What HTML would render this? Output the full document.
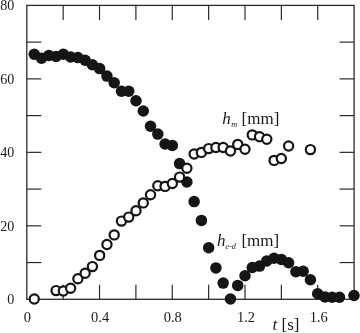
<!DOCTYPE html>
<html><head><meta charset="utf-8"><title>plot</title>
<style>
html,body{margin:0;padding:0;background:#fff;}
svg{display:block;}
text{font-family:"Liberation Serif",serif;fill:#1a1a1a;}
.tk{font-size:14.5px;}
.lb{font-size:17px;}
.sub{font-size:8.2px;font-style:italic;}
.it{font-style:italic;}
</style></head><body>
<svg width="360" height="333" viewBox="0 0 360 333">
<rect width="360" height="333" fill="#fff"/>
<g stroke="#2a2a2a" stroke-width="1.2" fill="none">
<rect x="26.8" y="5.4" width="327.30" height="293.90" stroke-width="1.3"/>
<line x1="63.17" y1="5.4" x2="63.17" y2="19.9"/>
<line x1="63.17" y1="299.3" x2="63.17" y2="284.8"/>
<line x1="99.53" y1="5.4" x2="99.53" y2="19.9"/>
<line x1="99.53" y1="299.3" x2="99.53" y2="284.8"/>
<line x1="135.90" y1="5.4" x2="135.90" y2="19.9"/>
<line x1="135.90" y1="299.3" x2="135.90" y2="284.8"/>
<line x1="172.27" y1="5.4" x2="172.27" y2="19.9"/>
<line x1="172.27" y1="299.3" x2="172.27" y2="284.8"/>
<line x1="208.63" y1="5.4" x2="208.63" y2="19.9"/>
<line x1="208.63" y1="299.3" x2="208.63" y2="284.8"/>
<line x1="245.00" y1="5.4" x2="245.00" y2="19.9"/>
<line x1="245.00" y1="299.3" x2="245.00" y2="284.8"/>
<line x1="281.37" y1="5.4" x2="281.37" y2="19.9"/>
<line x1="281.37" y1="299.3" x2="281.37" y2="284.8"/>
<line x1="317.73" y1="5.4" x2="317.73" y2="19.9"/>
<line x1="317.73" y1="299.3" x2="317.73" y2="284.8"/>
<line x1="26.8" y1="262.56" x2="41.3" y2="262.56"/>
<line x1="354.1" y1="262.56" x2="339.6" y2="262.56"/>
<line x1="26.8" y1="225.82" x2="41.3" y2="225.82"/>
<line x1="354.1" y1="225.82" x2="339.6" y2="225.82"/>
<line x1="26.8" y1="189.09" x2="41.3" y2="189.09"/>
<line x1="354.1" y1="189.09" x2="339.6" y2="189.09"/>
<line x1="26.8" y1="152.35" x2="41.3" y2="152.35"/>
<line x1="354.1" y1="152.35" x2="339.6" y2="152.35"/>
<line x1="26.8" y1="115.61" x2="41.3" y2="115.61"/>
<line x1="354.1" y1="115.61" x2="339.6" y2="115.61"/>
<line x1="26.8" y1="78.88" x2="41.3" y2="78.88"/>
<line x1="354.1" y1="78.88" x2="339.6" y2="78.88"/>
<line x1="26.8" y1="42.14" x2="41.3" y2="42.14"/>
<line x1="354.1" y1="42.14" x2="339.6" y2="42.14"/>
</g>
<g fill="#151515">
<circle cx="34.27" cy="54.2" r="5.75"/>
<circle cx="41.53" cy="58.3" r="5.75"/>
<circle cx="48.80" cy="55.5" r="5.75"/>
<circle cx="56.07" cy="56.5" r="5.75"/>
<circle cx="63.33" cy="54.3" r="5.75"/>
<circle cx="70.60" cy="57" r="5.75"/>
<circle cx="77.87" cy="57.6" r="5.75"/>
<circle cx="85.13" cy="60.2" r="5.75"/>
<circle cx="92.40" cy="64.7" r="5.75"/>
<circle cx="99.67" cy="68.6" r="5.75"/>
<circle cx="106.93" cy="76.1" r="5.75"/>
<circle cx="114.20" cy="82.8" r="5.75"/>
<circle cx="121.47" cy="91.3" r="5.75"/>
<circle cx="128.73" cy="91.3" r="5.75"/>
<circle cx="136.00" cy="100.7" r="5.75"/>
<circle cx="143.27" cy="111" r="5.75"/>
<circle cx="150.53" cy="126.2" r="5.75"/>
<circle cx="157.80" cy="134.1" r="5.75"/>
<circle cx="165.07" cy="144" r="5.75"/>
<circle cx="172.33" cy="145.4" r="5.75"/>
<circle cx="179.60" cy="163.6" r="5.75"/>
<circle cx="186.87" cy="182" r="5.75"/>
<circle cx="194.13" cy="201.6" r="5.75"/>
<circle cx="201.40" cy="220.4" r="5.75"/>
<circle cx="208.67" cy="247.8" r="5.75"/>
<circle cx="215.93" cy="267.9" r="5.75"/>
<circle cx="223.20" cy="283.1" r="5.75"/>
<circle cx="230.47" cy="299" r="5.75"/>
<circle cx="237.73" cy="285.4" r="5.75"/>
<circle cx="245.00" cy="275.7" r="5.75"/>
<circle cx="252.27" cy="267.5" r="5.75"/>
<circle cx="259.53" cy="266.1" r="5.75"/>
<circle cx="266.80" cy="260.9" r="5.75"/>
<circle cx="274.07" cy="258.3" r="5.75"/>
<circle cx="281.33" cy="259.4" r="5.75"/>
<circle cx="288.60" cy="262.8" r="5.75"/>
<circle cx="295.87" cy="271.7" r="5.75"/>
<circle cx="303.13" cy="271.3" r="5.75"/>
<circle cx="310.40" cy="279.7" r="5.75"/>
<circle cx="317.67" cy="293.8" r="5.75"/>
<circle cx="324.93" cy="296.9" r="5.75"/>
<circle cx="332.20" cy="297.3" r="5.75"/>
<circle cx="339.47" cy="297.3" r="5.75"/>
<circle cx="354.00" cy="295.5" r="5.75"/>
</g>
<g fill="#fff" stroke="#151515" stroke-width="2.2">
<circle cx="34.27" cy="299" r="4.6"/>
<circle cx="56.07" cy="290.6" r="4.6"/>
<circle cx="63.33" cy="291" r="4.6"/>
<circle cx="70.60" cy="288.3" r="4.6"/>
<circle cx="77.87" cy="278.8" r="4.6"/>
<circle cx="85.13" cy="273.2" r="4.6"/>
<circle cx="92.40" cy="266.6" r="4.6"/>
<circle cx="99.67" cy="255.4" r="4.6"/>
<circle cx="106.93" cy="244.5" r="4.6"/>
<circle cx="114.20" cy="234.9" r="4.6"/>
<circle cx="121.47" cy="221.1" r="4.6"/>
<circle cx="128.73" cy="217.1" r="4.6"/>
<circle cx="136.00" cy="210.7" r="4.6"/>
<circle cx="143.27" cy="202.9" r="4.6"/>
<circle cx="150.53" cy="194.7" r="4.6"/>
<circle cx="157.80" cy="185.8" r="4.6"/>
<circle cx="165.07" cy="186.4" r="4.6"/>
<circle cx="172.33" cy="183.5" r="4.6"/>
<circle cx="179.60" cy="177.1" r="4.6"/>
<circle cx="186.87" cy="168.2" r="4.6"/>
<circle cx="194.13" cy="154" r="4.6"/>
<circle cx="201.40" cy="152.4" r="4.6"/>
<circle cx="208.67" cy="148.6" r="4.6"/>
<circle cx="215.93" cy="147.5" r="4.6"/>
<circle cx="223.20" cy="147.5" r="4.6"/>
<circle cx="230.47" cy="151" r="4.6"/>
<circle cx="237.73" cy="144.4" r="4.6"/>
<circle cx="245.00" cy="149.3" r="4.6"/>
<circle cx="252.27" cy="134.9" r="4.6"/>
<circle cx="259.53" cy="136.7" r="4.6"/>
<circle cx="266.80" cy="139.3" r="4.6"/>
<circle cx="274.07" cy="160.4" r="4.6"/>
<circle cx="281.33" cy="158.5" r="4.6"/>
<circle cx="288.60" cy="146" r="4.6"/>
<circle cx="310.40" cy="149.6" r="4.6"/>
</g>
<text class="tk" x="14.4" y="10.30" text-anchor="end" style="font-size:14.1px">80</text>
<text class="tk" x="14.4" y="83.78" text-anchor="end" style="font-size:14.1px">60</text>
<text class="tk" x="14.4" y="157.25" text-anchor="end" style="font-size:14.1px">40</text>
<text class="tk" x="14.4" y="230.72" text-anchor="end" style="font-size:14.1px">20</text>
<text class="tk" x="14.4" y="304.20" text-anchor="end" style="font-size:14.1px">0</text>
<text class="tk" x="27.30" y="321.6" text-anchor="middle">0</text>
<text class="tk" x="100.07" y="321.6" text-anchor="middle">0.4</text>
<text class="tk" x="172.73" y="321.6" text-anchor="middle">0.8</text>
<text class="tk" x="246.00" y="321.6" text-anchor="middle">1.2</text>
<text class="tk" x="318.77" y="321.6" text-anchor="middle">1.6</text>
<text class="lb" y="124.4"><tspan class="it" x="222.3">h</tspan><tspan class="sub" x="231.2" dy="2.4">m</tspan><tspan x="241.6" dy="-2.4">[mm]</tspan></text>
<text class="lb" y="246.1"><tspan class="it" x="217.1">h</tspan><tspan class="sub" x="225.5" dy="3">e-d</tspan><tspan x="241.4" dy="-3">[mm]</tspan></text>
<text class="lb" x="272.6" y="330.3"><tspan class="it">t</tspan> [s]</text>
</svg></body></html>
